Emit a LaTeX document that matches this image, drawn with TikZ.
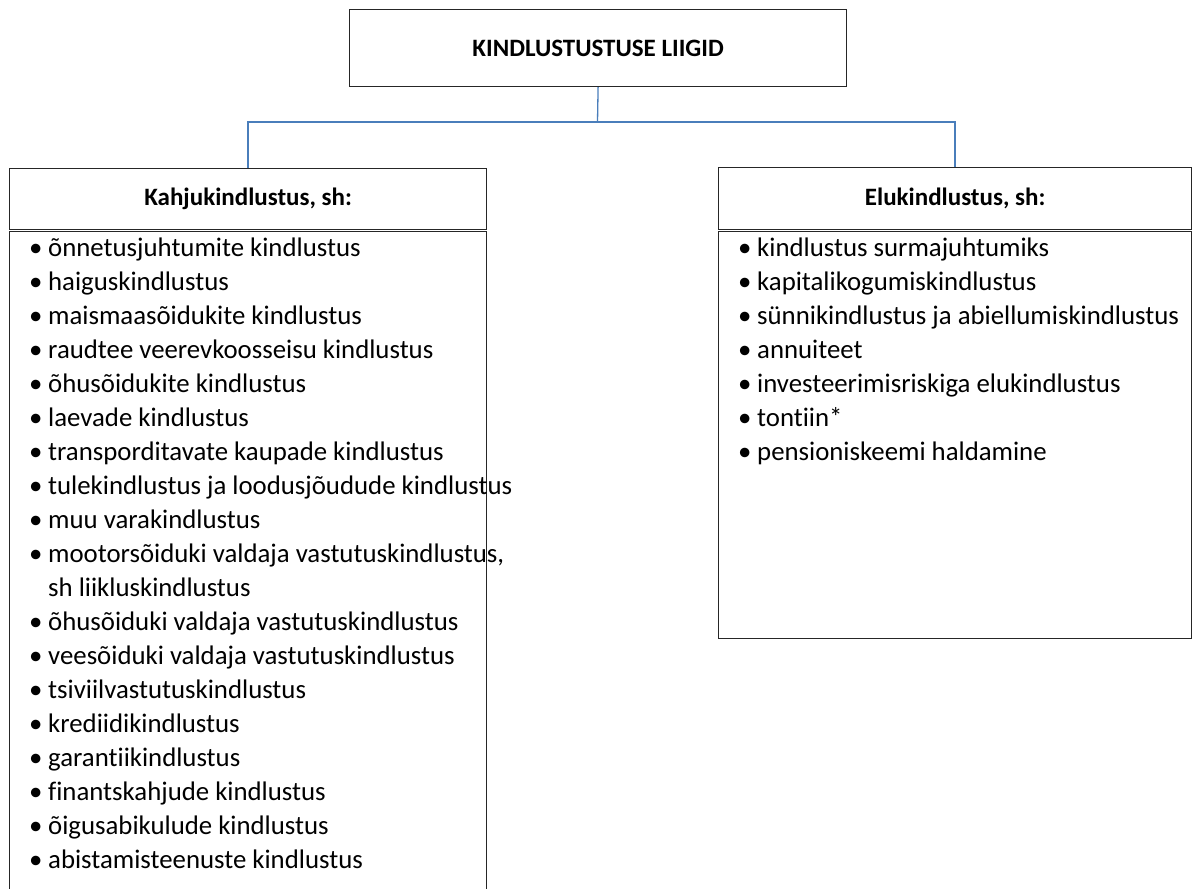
\documentclass[tikz,border=0pt]{standalone}
\usepackage{fontspec}
\setmainfont{Carlito}[Ligatures=NoCommon]
\usetikzlibrary{positioning}
\definecolor{joonsinine}{RGB}{74,126,187}
\newcommand{\punkt}{\makebox[19pt][l]{\textbullet}}

\begin{document}
\begin{tikzpicture}
  [
  x = 1pt, y = -1pt,
  % kast
  kast/.style = {rectangle,
    draw = black!85, line width = 1.2pt,
    anchor = north west,
    inner sep = 0pt},
  % pais
  pais/.style = {kast,
    font = \fontsize{25}{30}\selectfont\bfseries},
  % loend
  loend/.style = {anchor = north west,
    inner sep = 0pt, align = left,
    font = \fontsize{26.8}{34}\selectfont},
  % joon
  joon/.style = {draw, joonsinine, line width = 1.3pt},
  ]
  \useasboundingbox (0,0) rectangle (1192,889);

  % nodes
  \node [pais, minimum width = 497pt, minimum height = 77pt] (liigid) at (349,9) {KINDLUSTUSTUSE LIIGID};
  \node [pais, minimum width = 477pt, minimum height = 61pt] (kahju) at (9,168) {Kahjukindlustus, sh:};
  \node [kast, minimum width = 477pt, minimum height = 665pt] (kahjukast) at (9,231) {};
  \node [pais, minimum width = 473pt, minimum height = 62pt] (elu) at (718,167) {Elukindlustus, sh:};
  \node [kast, minimum width = 473pt, minimum height = 407pt] (elukast) at (718,231) {};

  % loendid
  \node [loend] (kahjutekst) at ([shift={(20,7)}]kahjukast.north west) {%
    \punkt õnnetusjuhtumite kindlustus\\
    \punkt haiguskindlustus\\
    \punkt maismaasõidukite kindlustus\\
    \punkt raudtee veerevkoosseisu kindlustus\\
    \punkt õhusõidukite kindlustus\\
    \punkt laevade kindlustus\\
    \punkt transporditavate kaupade kindlustus\\
    \punkt tulekindlustus ja loodusjõudude kindlustus\\
    \punkt muu varakindlustus\\
    \punkt mootorsõiduki valdaja vastutuskindlustus,\\
    \hspace*{19pt}sh liikluskindlustus\\
    \punkt õhusõiduki valdaja vastutuskindlustus\\
    \punkt veesõiduki valdaja vastutuskindlustus\\
    \punkt tsiviilvastutuskindlustus\\
    \punkt krediidikindlustus\\
    \punkt garantiikindlustus\\
    \punkt finantskahjude kindlustus\\
    \punkt õigusabikulude kindlustus\\
    \punkt abistamisteenuste kindlustus};
  \node [loend] (elutekst) at ([shift={(20,7)}]elukast.north west) {%
    \punkt kindlustus surmajuhtumiks\\
    \punkt kapitalikogumiskindlustus\\
    \punkt sünnikindlustus ja abiellumiskindlustus\\
    \punkt annuiteet\\
    \punkt investeerimisriskiga elukindlustus\\
    \punkt tontiin*\\
    \punkt pensioniskeemi haldamine};

  % path
  \coordinate (haru) at (597.5,122);
  \path [joon] (liigid.south) -- (haru);
  \path [joon] (haru) -| (kahju.north);
  \path [joon] (haru) -| (elu.north);

\end{tikzpicture}
\end{document}
